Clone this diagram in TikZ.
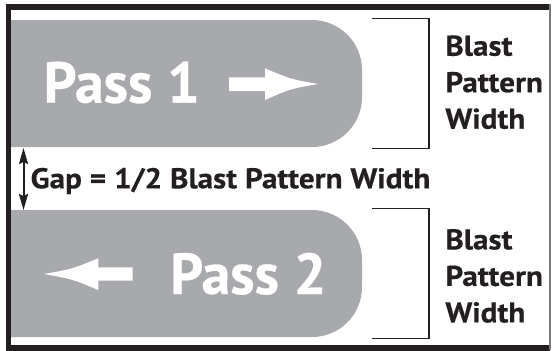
\documentclass[tikz,border=0pt]{standalone}
\usepackage{fontspec}
\setmainfont{PT Sans}
\newfontfamily\sidefont{PT Sans}[FakeStretch=1.09,FakeBold=0.4]
\newfontfamily\passfont{PT Sans}[FakeBold=0.5]
\usetikzlibrary{arrows.meta}
\definecolor{passgray}{HTML}{A7A9AC}
\definecolor{inkblack}{HTML}{231F20}
\tikzset{
  passbox/.style={fill=passgray},
  passarrow/.style={fill=white},
  passlabel/.style={text=white, inner sep=0pt, font=\passfont\fontsize{28.9}{34}\selectfont\bfseries},
  sidelabel/.style={text=inkblack, inner sep=0pt, align=left, font=\sidefont\fontsize{14.3}{18.25}\selectfont\bfseries},
  bracket/.style={draw=inkblack, line width=0.7pt},
  gaparrow/.style={draw=inkblack, line width=1pt, {Stealth[length=8pt,width=4.5pt,inset=1pt]}-{Stealth[length=8pt,width=4.5pt,inset=1pt]}},
  frameline/.style={draw=inkblack, line width=2.8pt}
}
\begin{document}
\begin{tikzpicture}[x=0.5pt,y=-0.5pt]
  \useasboundingbox (0,0) rectangle (556,350);
  % grey passes
  \fill[passbox] (8,20) -- (312,20) arc[start angle=90, end angle=0, radius=25pt]
    -- (362,97) arc[start angle=0, end angle=-90, radius=25pt] -- (8,147) -- cycle;
  \fill[passbox] (8,210) -- (312,210) arc[start angle=90, end angle=0, radius=25pt]
    -- (362,287) arc[start angle=0, end angle=-90, radius=25pt] -- (8,337) -- cycle;
  % white direction arrows
  \fill[passarrow] (229,77.3) -- (265,77.3) -- (265,68.3)
    .. controls (290,79) .. (318,84) .. controls (290,89) .. (265,100)
    -- (265,91) -- (229,91) -- cycle;
  \fill[passarrow] (132.7,267.3) -- (98.3,267.3) -- (98.3,258.3)
    .. controls (72,269) .. (44,274) .. controls (72,279) .. (98.3,290)
    -- (98.3,280.7) -- (132.7,280.7) -- cycle;
  \node[passlabel, anchor=base] (pass1) at (121.7,102.7) {Pass 1};
  \node[passlabel, anchor=base] (pass2) at (248.3,294) {Pass 2};
  % brackets
  \coordinate (brtop1) at (372,18.3);
  \coordinate (brbot1) at (372,148.3);
  \coordinate (brtop2) at (372,208.3);
  \coordinate (brbot2) at (372,338.3);
  \draw[bracket] (brtop1) -- ++(57,0) |- (brbot1);
  \draw[bracket] (brtop2) -- ++(57,0) |- (brbot2);
  \node[sidelabel, anchor=north west] (width1) at (445,35) {Blast\\Pattern\\Width};
  \node[sidelabel, anchor=north west] (width2) at (445,228.7) {Blast\\Pattern\\Width};
  % gap
  \coordinate (gaptop) at (23.5,148);
  \coordinate (gapbot) at (23.5,210);
  \draw[gaparrow] (gaptop) -- (gapbot);
  \node[sidelabel, anchor=base] (gap) at (230.5,188.3) {Gap = 1/2 Blast Pattern Width};
  % frame
  \draw[frameline] (550,7.2) -- (8.5,7.2) -- (8.5,347.8) -- (550,347.8);
  \draw[draw=inkblack!60, line width=0.8pt] (550,4.4) -- (550,350);
\end{tikzpicture}
\end{document}
